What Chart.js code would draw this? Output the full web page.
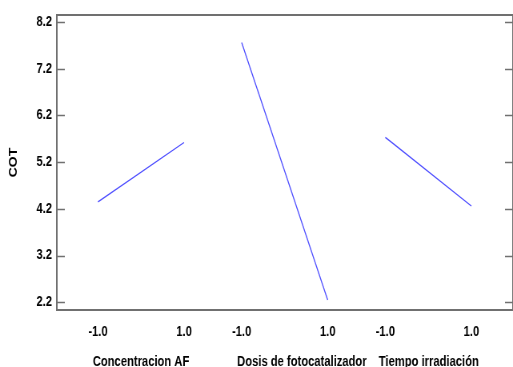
<!DOCTYPE html>
<html>
<head>
<meta charset="utf-8">
<script src="https://cdn.jsdelivr.net/npm/chart.js@4/dist/chart.umd.min.js"></script>
<style>
  html, body { margin: 0; padding: 0; background: #fff; overflow: hidden; }
  #wrap { width: 513px; height: 367px; overflow: hidden; }
  /* the original graphic is squeezed horizontally, narrow lettering included */
  #effects { transform: scaleX(0.80031); transform-origin: 0 0; display: block; }
</style>
</head>
<body>
<div id="wrap"><canvas id="effects" width="641" height="367"></canvas></div>
<script>
// main effects for COT
const factors = ['Concentracion AF', 'Dosis de fotocatalizador', 'Tiempo irradiación'];
const levels = [-1, 1];
const levelLabels = ['-1.0', '1.0'];
const cotLow = [4.35, 7.76, 5.73];   // at level -1.0
const cotHigh = [5.62, 2.25, 4.26];  // at level 1.0
const yTicks = [2.2, 3.2, 4.2, 5.2, 6.2, 7.2, 8.2];

// layout of the factor panels along the x axis
const groupCenter = [0, 3.34, 6.68];
const groupLabelAt = [0, 3.74, 6.69];

const FONT = "'Liberation Sans', Arial, sans-serif";
const AXIS = '#707070';

const datasets = factors.map((name, i) => ({
  label: name,
  data: [
    { x: groupCenter[i] + levels[0], y: cotLow[i] },
    { x: groupCenter[i] + levels[1], y: cotHigh[i] }
  ],
  borderColor: '#4f4fff',
  borderWidth: 1.3,
  pointRadius: 0,
  showLine: true,
  fill: false
}));

const xTickValues = [];
groupCenter.forEach(c => levels.forEach(l => xTickValues.push(c + l)));

// frame, inward ticks and factor names
const framePlugin = {
  id: 'frame',
  afterDraw(chart) {
    const { ctx, chartArea: a, scales } = chart;
    ctx.save();
    ctx.strokeStyle = AXIS;
    ctx.lineWidth = 2;
    ctx.strokeRect(a.left, a.top, a.right - a.left, a.bottom - a.top);
    ctx.lineWidth = 1.5;
    scales.y.ticks.forEach(t => {
      const y = Math.round(scales.y.getPixelForValue(t.value)) + 0.5;
      ctx.beginPath();
      ctx.moveTo(a.left, y); ctx.lineTo(a.left + 10, y);
      ctx.moveTo(a.right, y); ctx.lineTo(a.right - 10, y);
      ctx.stroke();
    });
    ctx.fillStyle = '#000';
    ctx.font = 'bold 14px ' + FONT;
    ctx.textAlign = 'center';
    ctx.textBaseline = 'middle';
    factors.forEach((name, i) => {
      ctx.fillText(name, scales.x.getPixelForValue(groupLabelAt[i]), 362);
    });
    ctx.restore();
  }
};

new Chart(document.getElementById('effects'), {
  type: 'scatter',
  data: { datasets },
  options: {
    responsive: false,
    animation: false,
    layout: { padding: { top: 15, right: 0, left: 0, bottom: 0 } },
    plugins: { legend: { display: false }, tooltip: { enabled: false } },
    scales: {
      x: {
        type: 'linear',
        min: -1.957,
        max: 8.648,
        grid: { display: false, drawTicks: false },
        border: { display: false },
        afterBuildTicks: s => { s.ticks = xTickValues.map(v => ({ value: v })); },
        afterFit: s => { s.height = 57; },
        ticks: {
          padding: 14,
          color: '#000',
          font: { family: FONT, size: 14, weight: 'bold' },
          maxRotation: 0,
          autoSkip: false,
          callback: (v, i) => levelLabels[i % 2]
        }
      },
      y: {
        min: 2.035,
        max: 8.35,
        grid: { display: false, drawTicks: false },
        border: { display: false },
        afterBuildTicks: s => { s.ticks = yTicks.map(v => ({ value: v })); },
        afterFit: s => { s.width = 71; },
        ticks: {
          padding: 6,
          color: '#000',
          font: { family: FONT, size: 14, weight: 'bold' },
          callback: v => v.toFixed(1)
        },
        title: {
          display: true,
          text: 'COT',
          color: '#000',
          font: { family: FONT, size: 14, weight: 'bold' },
          padding: { top: 9, bottom: 0 }
        }
      }
    }
  },
  plugins: [framePlugin]
});
</script>
</body>
</html>
